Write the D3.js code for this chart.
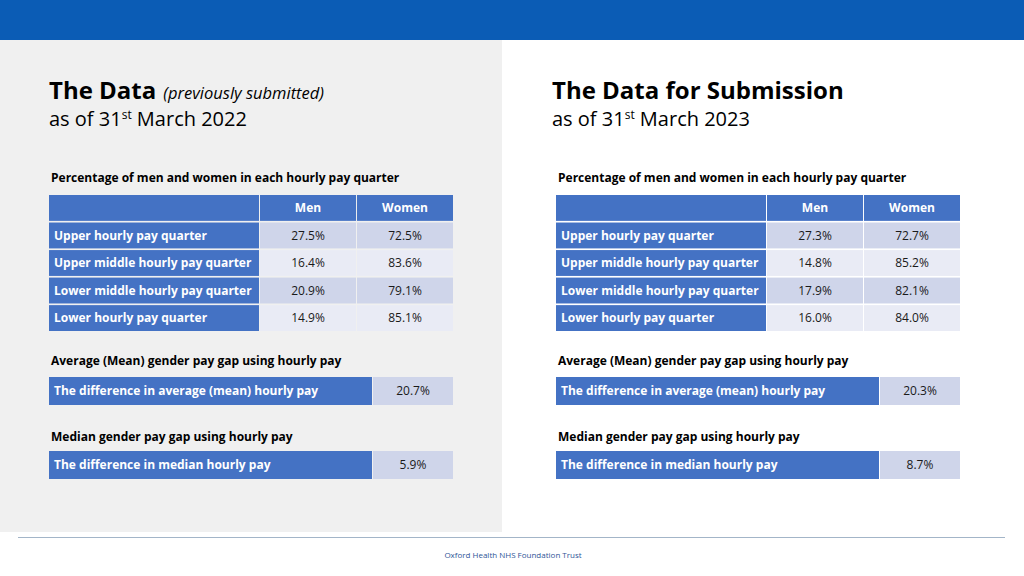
<!DOCTYPE html>
<html>
<head>
<meta charset="utf-8">
<script src="https://cdn.jsdelivr.net/npm/d3@7"></script>
<style>
  body { margin: 0; background: #fff; }
  svg { display: block; font-family: "Open Sans", "Noto Sans", sans-serif; }
</style>
</head>
<body>
<div id="chart"></div>
<script>
// data
const quarters = ["Upper hourly pay quarter", "Upper middle hourly pay quarter",
    "Lower middle hourly pay quarter", "Lower hourly pay quarter"];
const genders = ["Men", "Women"];
const men2022 = [27.5, 16.4, 20.9, 14.9];
const women2022 = [72.5, 83.6, 79.1, 85.1];
const men2023 = [27.3, 14.8, 17.9, 16.0];
const women2023 = [72.7, 85.2, 82.1, 84.0];
const meanGap = [20.7, 20.3];
const medianGap = [5.9, 8.7];

const width = 1024, height = 576;
const blue = "#4472c4", dark = "#1a1a1a";
const rowFill = ["#cfd5ea", "#e9ebf5"];
const fmt = d3.format(".1f");

const svg = d3.select("#chart").append("svg")
    .attr("width", width)
    .attr("height", height);

// top bar, grey panel, footer
svg.append("rect").attr("x", 0).attr("y", 0).attr("width", width).attr("height", 40).attr("fill", "#0b5cb5");
svg.append("rect").attr("x", 0).attr("y", 40).attr("width", 502).attr("height", 492).attr("fill", "#f0f0f0");
svg.append("line").attr("x1", 18).attr("x2", 1005).attr("y1", 537.5).attr("y2", 537.5)
    .attr("stroke", "#a3b5c8").attr("stroke-width", 1);
svg.append("text").attr("x", 513).attr("y", 558).attr("text-anchor", "middle")
    .attr("font-size", 8).attr("fill", "#2f5597").text("Oxford Health NHS Foundation Trust");

function panel(x0, opts) {
    const g = svg.append("g").attr("transform", `translate(${x0},0)`);

    // title
    const t = g.append("text").attr("x", opts.titleX).attr("y", 99).attr("fill", "#000");
    t.append("tspan").attr("font-size", 24).attr("font-weight", 700).text(opts.title);
    if (opts.note) {
        t.append("tspan").attr("font-size", 16.5).attr("font-style", "italic").attr("dx", 7).text(opts.note);
    }
    const s = g.append("text").attr("x", opts.titleX).attr("y", 126).attr("font-size", 20).attr("fill", "#000");
    s.append("tspan").text("as of 31");
    s.append("tspan").attr("font-size", 12).attr("dy", -7).text("st");
    s.append("tspan").attr("dy", 7).text(" March " + opts.year);

    // quarter table
    g.append("text").attr("x", 2).attr("y", 182).attr("font-size", 12).attr("font-weight", 700)
        .text("Percentage of men and women in each hourly pay quarter");

    const y = d3.scaleBand().domain(["head"].concat(quarters)).range([195, 331]).paddingInner(0.06);
    const x = d3.scaleBand().domain(genders).range([211, 404]).paddingInner(0.01);
    const labelW = 210;

    g.append("rect").attr("x", 0).attr("y", y("head")).attr("width", labelW).attr("height", y.bandwidth()).attr("fill", blue);
    g.selectAll(".hd").data(genders).join("g").attr("class", "hd").each(function (d) {
        const c = d3.select(this);
        c.append("rect").attr("x", x(d)).attr("y", y("head")).attr("width", x.bandwidth()).attr("height", y.bandwidth()).attr("fill", blue);
        c.append("text").attr("x", x(d) + x.bandwidth() / 2).attr("y", y("head") + y.bandwidth() / 2).attr("dy", "0.35em")
            .attr("text-anchor", "middle").attr("fill", "#fff").attr("font-size", 12).attr("font-weight", 700).text(d);
    });

    const rows = quarters.map((q, i) => ({ q, i, vals: [opts.men[i], opts.women[i]] }));
    const r = g.selectAll(".row").data(rows).join("g").attr("class", "row");
    r.append("rect").attr("x", 0).attr("y", d => y(d.q)).attr("width", labelW).attr("height", y.bandwidth()).attr("fill", blue);
    r.append("text").attr("x", 5).attr("y", d => y(d.q) + y.bandwidth() / 2).attr("dy", "0.35em")
        .attr("fill", "#fff").attr("font-size", 12).attr("font-weight", 700).text(d => d.q);
    genders.forEach((gd, k) => {
        r.append("rect").attr("x", x(gd)).attr("y", d => y(d.q)).attr("width", x.bandwidth()).attr("height", y.bandwidth())
            .attr("fill", d => rowFill[d.i % 2]);
        r.append("text").attr("x", x(gd) + x.bandwidth() / 2).attr("y", d => y(d.q) + y.bandwidth() / 2).attr("dy", "0.35em")
            .attr("text-anchor", "middle").attr("fill", dark).attr("font-size", 12).text(d => fmt(d.vals[k]) + "%");
    });

    // single-value gap tables
    const gaps = [
        { title: "Average (Mean) gender pay gap using hourly pay", label: "The difference in average (mean) hourly pay", v: opts.mean, ty: 365, by: 377 },
        { title: "Median gender pay gap using hourly pay", label: "The difference in median hourly pay", v: opts.median, ty: 441, by: 451 }
    ];
    gaps.forEach(gp => {
        g.append("text").attr("x", 2).attr("y", gp.ty).attr("font-size", 12).attr("font-weight", 700).text(gp.title);
        g.append("rect").attr("x", 0).attr("y", gp.by).attr("width", 323).attr("height", 28).attr("fill", blue);
        g.append("rect").attr("x", 324).attr("y", gp.by).attr("width", 80).attr("height", 28).attr("fill", rowFill[0]);
        g.append("text").attr("x", 5).attr("y", gp.by + 14).attr("dy", "0.35em").attr("fill", "#fff")
            .attr("font-size", 12).attr("font-weight", 700).text(gp.label);
        g.append("text").attr("x", 364).attr("y", gp.by + 14).attr("dy", "0.35em").attr("text-anchor", "middle")
            .attr("fill", dark).attr("font-size", 12).text(fmt(gp.v) + "%");
    });
}

panel(49, { title: "The Data", note: "(previously submitted)", year: "2022", titleX: 0,
    men: men2022, women: women2022, mean: meanGap[0], median: medianGap[0] });
panel(556, { title: "The Data for Submission", note: null, year: "2023", titleX: -4,
    men: men2023, women: women2023, mean: meanGap[1], median: medianGap[1] });
</script>
</body>
</html>
